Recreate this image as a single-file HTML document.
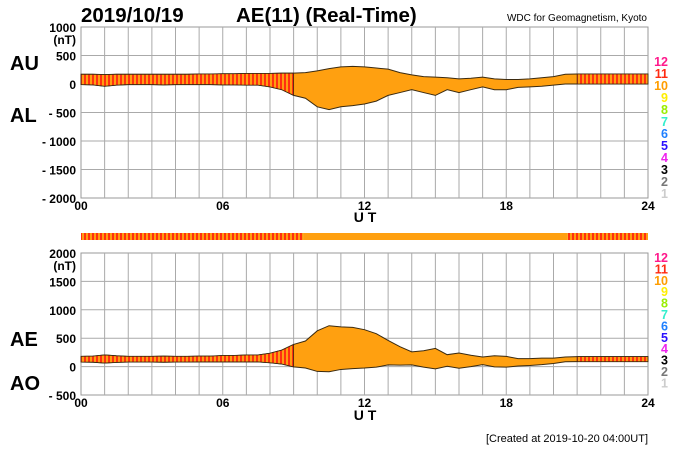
<!DOCTYPE html>
<html><head><meta charset="utf-8">
<style>
body{margin:0;background:#fff;width:700px;height:450px;overflow:hidden;font-family:"Liberation Sans",Arial,sans-serif}
svg{display:block}
text{font-family:"Liberation Sans",Arial,sans-serif;font-weight:bold}
</style></head><body>
<svg id="c" width="700" height="450" viewBox="0 0 700 450">
<defs>
<pattern id="stripe" width="4" height="10" patternUnits="userSpaceOnUse">
<rect width="4" height="10" fill="#ff9d10"/><rect width="2" height="10" fill="#ff3010"/>
</pattern>
</defs>
<text x="81" y="22" font-size="20.5">2019/10/19</text>
<text x="236" y="22" font-size="20.5">AE(11) (Real-Time)</text>
<text x="647" y="21" font-size="10" text-anchor="end" style="font-weight:normal">WDC for Geomagnetism, Kyoto</text>
<text x="10" y="70" font-size="20">AU</text>
<text x="10" y="122" font-size="20">AL</text>
<text x="10" y="346" font-size="20">AE</text>
<text x="10" y="390" font-size="20">AO</text>
<text x="365" y="222" font-size="14" text-anchor="middle">U T</text>
<text x="365" y="420" font-size="14" text-anchor="middle">U T</text>
<text x="648" y="442" font-size="11" text-anchor="end" style="font-weight:normal">[Created at 2019-10-20 04:00UT]</text>
<g id="g"></g>
</svg>
<script>
const hours=[0,0.5,1,1.5,2,2.5,3,3.5,4,4.5,5,5.5,6,6.5,7,7.5,8,8.5,9,9.5,10,10.5,11,11.5,12,12.5,13,13.5,14,14.5,15,15.5,16,16.5,17,17.5,18,18.5,19,19.5,20,20.5,21,21.5,22,22.5,23,23.5,24];
const auValues=[170,170,165,170,170,170,170,170,170,170,175,175,180,180,185,185,185,190,190,200,230,270,300,310,300,280,260,200,160,130,120,110,90,100,120,90,80,80,90,110,130,170,175,175,175,175,175,175,175];
const alValues=[-10,-15,-40,-20,-10,-10,-10,-15,-10,-10,-10,-10,-15,-15,-20,-20,-50,-100,-200,-250,-400,-450,-400,-380,-350,-300,-200,-150,-100,-150,-200,-100,-150,-100,-50,-100,-100,-60,-50,-40,-20,0,0,0,0,0,0,0,0];
const xTicks=["00","06","12","18","24"];
const topTicks=[1000,500,0,-500,-1000,-1500,-2000];
const botTicks=[2000,1500,1000,500,0,-500];
const legendNums=[12,11,10,9,8,7,6,5,4,3,2,1];
const legendColors=["#ff1a8c","#ff2a10","#ff9d00","#ffee00","#99ee00","#33eecc","#1e7fff","#2a10ff","#ee22ee","#000","#777","#ccc"];
const stripeEnd1=9.4, stripeStart2=20.6;

const NS="http://www.w3.org/2000/svg";
const g=document.getElementById('g');
function el(t,a){const e=document.createElementNS(NS,t);for(const k in a)e.setAttribute(k,a[k]);g.appendChild(e);return e;}
const X0=81,X1=648;
const x=h=>X0+(X1-X0)*h/24;
const yTop=v=>27+(1000-v)*(198-27)/3000;
const yBot=v=>253+(2000-v)*(395-253)/2500;

function panel(name,y,ticks,top,bot,upper,lower){
  const bg=el('rect',{x:X0,y:top,width:X1-X0,height:bot-top,fill:'#fff',stroke:'#999'});
  
  
  for(let h=1;h<24;h++){const l=el('line',{x1:x(h),x2:x(h),y1:top,y2:bot,stroke:'#aaa','stroke-width':1});
    }
  ticks.forEach((v,i)=>{
    if(i>0&&i<ticks.length-1){const l=el('line',{x1:X0,x2:X1,y1:y(v),y2:y(v),stroke:'#aaa'});
      }
    const t=el('text',{x:76,y:y(v)+5,'font-size':12,'text-anchor':'end'});
    t.textContent=(v<0?'- '+(-v):String(v));
    
  });
  const u=el('text',{x:76,y:y(ticks[0])+17,'font-size':12,'text-anchor':'end'});u.textContent='(nT)';
  
  let pts=hours.map((h,i)=>x(h)+','+y(upper[i])).concat(hours.slice().reverse().map((h,j)=>{const i=hours.length-1-j;return x(h)+','+y(lower[i]);}));
  const p=el('polygon',{points:pts.join(' '),fill:'#ffa010',stroke:'#3a2a10','stroke-width':1});
  
  [[0,stripeEnd1],[stripeStart2,24]].forEach(([a,b])=>{
    const idx=hours.map((h,i)=>i).filter(i=>hours[i]>=a-1e-9&&hours[i]<=b+1e-9);
    const sp=idx.map(i=>x(hours[i])+','+y(upper[i])).concat(idx.slice().reverse().map(i=>x(hours[i])+','+y(lower[i])));
    const s=el('polygon',{points:sp.join(' '),fill:'url(#stripe)',stroke:'#3a2a10','stroke-width':0.8});
    
  });
  xTicks.forEach((t,i)=>{const tx=el('text',{x:x(i*6),y:bot+12,'font-size':12,'text-anchor':'middle'});tx.textContent=t;
    });
  const legTop=name==='au-al'?66:262, legStep=name==='au-al'?12:11.4;
  legendNums.forEach((n,i)=>{const t=el('text',{x:668,y:legTop+i*legStep,'font-size':12.5,'text-anchor':'end',fill:legendColors[i]});t.textContent=n;
    });
}
panel('au-al',yTop,topTicks,27,198,auValues,alValues);
const aeValues=auValues.map((u,i)=>u-alValues[i]);
const aoValues=auValues.map((u,i)=>(u+alValues[i])/2);
panel('ae-ao',yBot,botTicks,253,395,aeValues,aoValues);
const b1=el('rect',{x:X0,y:233,width:x(stripeEnd1)-X0,height:7,fill:'url(#stripe)'});

const b2=el('rect',{x:x(stripeEnd1),y:233,width:x(stripeStart2)-x(stripeEnd1),height:7,fill:'#ffa010'});

const b3=el('rect',{x:x(stripeStart2),y:233,width:X1-x(stripeStart2),height:7,fill:'url(#stripe)'});

</script>
</body></html>
